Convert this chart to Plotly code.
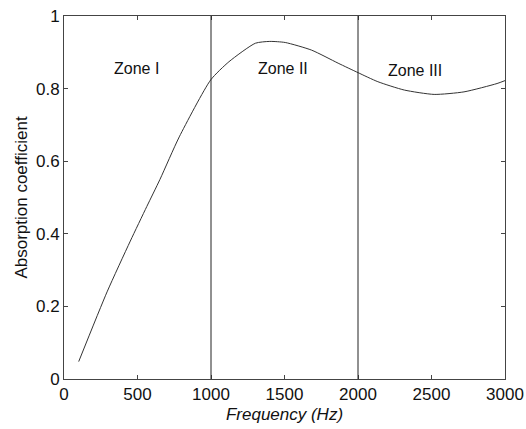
import plotly.graph_objects as go

freq = [100, 293, 451, 563, 653, 784, 998, 1122, 1302, 1400, 1505, 1684, 1865, 2000, 2135, 2315, 2518, 2721, 2946, 3000]
absorb = [0.048, 0.240, 0.380, 0.475, 0.550, 0.667, 0.824, 0.874, 0.925, 0.930, 0.927, 0.906, 0.870, 0.844, 0.819, 0.796, 0.784, 0.791, 0.814, 0.822]

zone_bounds = [1000, 2000]
zone_labels = ["Zone I", "Zone II", "Zone III"]
zone_label_x = [490, 1490, 2390]
zone_label_y = [0.855, 0.855, 0.85]

xticks = [0, 500, 1000, 1500, 2000, 2500, 3000]
yticks = [0, 0.2, 0.4, 0.6, 0.8, 1]
ytick_text = ["0", "0.2", "0.4", "0.6", "0.8", "1"]

FONT = "Arial, Liberation Sans"

fig = go.Figure()
fig.add_trace(go.Scatter(x=freq, y=absorb, mode="lines",
                         line=dict(color="#333333", width=1, shape="spline", smoothing=0.6),
                         showlegend=False))

for b in zone_bounds:
    fig.add_shape(type="line", x0=b, x1=b, y0=0, y1=1, xref="x", yref="y",
                  line=dict(color="#222222", width=1))

for t, x, y in zip(zone_labels, zone_label_x, zone_label_y):
    fig.add_annotation(x=x, y=y, text=t, showarrow=False,
                       font=dict(family=FONT, size=16, color="#111111"))

axis_common = dict(showgrid=False, zeroline=False, showline=True, linecolor="#444444", linewidth=1,
                   mirror="ticks", ticks="inside", ticklen=4, tickcolor="#444444", automargin=False,
                   ticklabeloverflow="allow",
                   tickfont=dict(family=FONT, size=17, color="#111111"))

fig.update_xaxes(range=[0, 3000], tickvals=xticks, **axis_common,
                 title=dict(text="<i>Frequency (Hz)</i>", font=dict(family=FONT, size=17, color="#111111"), standoff=4))
fig.update_yaxes(range=[0, 1], tickvals=yticks, ticktext=ytick_text, **axis_common,
                 title=dict(text="Absorption coefficient", font=dict(family=FONT, size=17, color="#111111"), standoff=4))

fig.update_layout(width=526, height=429, margin=dict(l=64, r=21, t=16, b=50),
                  plot_bgcolor="white", paper_bgcolor="white")

fig.write_html("out.html")
